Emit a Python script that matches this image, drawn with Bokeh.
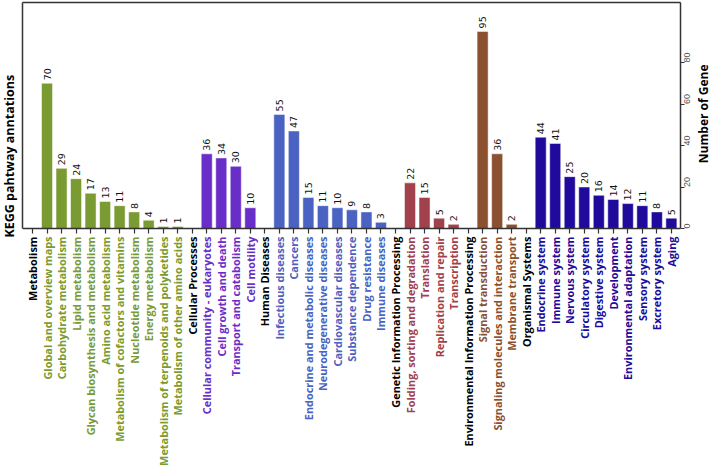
import math
from bokeh.plotting import figure
from bokeh.layouts import row
from bokeh.models import Range1d, FixedTicker, ColumnDataSource, LabelSet, Label, LinearAxis
from bokeh.core.properties import value
from bokeh.embed import file_html
from bokeh.resources import INLINE

# ---- data ----
groups = ["Metabolism", "Cellular Processes", "Human Diseases",
          "Genetic Information Processing", "Environmental Information Processing",
          "Organismal Systems"]
group_colors = ["#7A9A32", "#6A2EC8", "#4A62C2", "#A0414B", "#8A5030", "#200A9C"]

metabolism = ["Global and overview maps", "Carbohydrate metabolism", "Lipid metabolism",
              "Glycan biosynthesis and metabolism", "Amino acid metabolism",
              "Metabolism of cofactors and vitamins", "Nucleotide metabolism",
              "Energy metabolism", "Metabolism of terpenoids and polyketides",
              "Metabolism of other amino acids"]
metabolism_vals = [70, 29, 24, 17, 13, 11, 8, 4, 1, 1]

cellular = ["Cellular community - eukaryotes", "Cell growth and death",
            "Transport and catabolism", "Cell motility"]
cellular_vals = [36, 34, 30, 10]

diseases = ["Infectious diseases", "Cancers", "Endocrine and metabolic diseases",
            "Neurodegenerative diseases", "Cardiovascular diseases",
            "Substance dependence", "Drug resistance", "Immune diseases"]
diseases_vals = [55, 47, 15, 11, 10, 9, 8, 3]

genetic = ["Folding, sorting and degradation", "Translation",
           "Replication and repair", "Transcription"]
genetic_vals = [22, 15, 5, 2]

environmental = ["Signal transduction", "Signaling molecules and interaction",
                 "Membrane transport"]
environmental_vals = [95, 36, 2]

organismal = ["Endocrine system", "Immune system", "Nervous system",
              "Circulatory system", "Digestive system", "Development",
              "Environmental adaptation", "Sensory system", "Excretory system", "Aging"]
organismal_vals = [44, 41, 25, 20, 16, 14, 12, 11, 8, 5]

y_ticks = [0, 20, 40, 60, 80]

items = [metabolism, cellular, diseases, genetic, environmental, organismal]
vals = [metabolism_vals, cellular_vals, diseases_vals, genetic_vals,
        environmental_vals, organismal_vals]

# ---- flatten ----
lab_x, lab_text, lab_color = [], [], []
bar_x, bar_top, bar_color, bar_text = [], [], [], []
i = 0
for g, col, names, vs in zip(groups, group_colors, items, vals):
    lab_x.append(i); lab_text.append(g); lab_color.append("#000000")
    i += 1
    for n, v in zip(names, vs):
        lab_x.append(i); lab_text.append(n); lab_color.append(col)
        bar_x.append(i); bar_top.append(v); bar_color.append(col); bar_text.append(str(v))
        i += 1
n_cat = i

# ---- geometry (pixels of the page) ----
H = 474
LEFT_W = 20            # strip holding the left title
RIGHT_X = 696          # strip holding the right title starts here
TOTAL_W = 711
box_left_px, box_right_px = 22, 680
left_b = box_left_px - LEFT_W
right_b = RIGHT_X - box_right_px
main_w = RIGHT_X - LEFT_W
top_b, bottom_b = 2, 5
px_x = 14.52          # pixels per category
px_y = 2.075          # pixels per gene
cat0_px = 32          # page x of first category
zero_px = 228         # page y of value 0
x_start = -(cat0_px - box_left_px) / px_x
x_end = x_start + (box_right_px - box_left_px) / px_x
y_top = (zero_px - top_b) / px_y
y_bot = -((H - bottom_b) - zero_px) / px_y

LINE = "#333333"

p = figure(width=main_w, height=H, x_range=Range1d(x_start, x_end),
           y_range=Range1d(y_bot, y_top),
           output_backend="svg", toolbar_location=None, y_axis_location="right",
           min_border_left=left_b, min_border_right=right_b,
           min_border_top=top_b, min_border_bottom=bottom_b)
p.xgrid.visible = False
p.ygrid.visible = False
p.outline_line_color = None
p.background_fill_color = "white"
p.border_fill_color = "white"

bsrc = ColumnDataSource(dict(x=bar_x, top=bar_top, color=bar_color, text=bar_text))
p.vbar(x="x", top="top", bottom=0, width=0.76, fill_color="color",
       line_color="white", line_alpha=0.5, line_width=1, source=bsrc)
p.text(x="x", y="top", text="text", source=bsrc, angle=math.pi / 2,
       text_align="left", text_baseline="middle", y_offset=-3,
       text_font_size="9.5px", text_color="#111111", text_font=value("DejaVu Sans"))

# bottom axis: drawn at value 0, category ticks only
xa = p.xaxis[0]
xa.fixed_location = 0
xa.ticker = FixedTicker(ticks=[], minor_ticks=list(range(n_cat)))
xa.major_label_standoff = 0
xa.minor_tick_out = 5
xa.minor_tick_in = 0
xa.minor_tick_line_color = LINE
xa.minor_tick_line_width = 1.2
xa.axis_line_color = LINE
xa.axis_line_width = 1.5

# right axis: number of genes
ya = p.yaxis[0]
ya.bounds = (0, y_top)
ya.ticker = FixedTicker(ticks=y_ticks)
ya.major_label_orientation = math.pi / 2
ya.major_label_text_font_size = "9px"
ya.major_label_text_color = "#555555"
ya.major_label_standoff = 2
ya.major_tick_out = 4
ya.major_tick_in = 0
ya.minor_tick_line_color = None
ya.axis_line_color = LINE
ya.axis_line_width = 1.5
ya.major_tick_line_color = LINE

# top and left sides of the box
top_axis = LinearAxis(ticker=FixedTicker(ticks=[], minor_ticks=[0]),
                      axis_line_color=LINE, axis_line_width=1.5,
                      major_tick_out=0, major_tick_in=0, major_label_standoff=0,
                      minor_tick_out=0, minor_tick_in=0,
                      minor_tick_line_color=None, major_tick_line_color=None)
p.add_layout(top_axis, "above")
left_axis = LinearAxis(ticker=FixedTicker(ticks=[], minor_ticks=[0]), bounds=(0, y_top),
                       axis_line_color=LINE, axis_line_width=1.5,
                       major_tick_out=0, major_tick_in=0, major_label_standoff=0,
                       minor_tick_out=0, minor_tick_in=0,
                       minor_tick_line_color=None, major_tick_line_color=None)
p.add_layout(left_axis, "left")

# category labels below the axis
lab_y = -8 / px_y
lsrc = ColumnDataSource(dict(x=lab_x, y=[lab_y] * n_cat, text=lab_text, color=lab_color))
p.add_layout(LabelSet(x="x", y="y", text="text", source=lsrc, angle=math.pi / 2,
                      text_align="right", text_baseline="middle",
                      text_color="color", text_font_size="10.9px",
                      text_font=value("Open Sans"), text_font_style="bold"))


def title_strip(width, cx, cy, text, size):
    s = figure(width=width, height=H, x_range=Range1d(0, width), y_range=Range1d(0, H),
               output_backend="svg", toolbar_location=None,
               x_axis_location=None, y_axis_location=None,
               min_border_left=0, min_border_right=0, min_border_top=0, min_border_bottom=0)
    s.xgrid.visible = False
    s.ygrid.visible = False
    s.outline_line_color = None
    s.add_layout(Label(x=cx, y=H - cy, text=text, angle=math.pi / 2,
                       text_align="center", text_baseline="middle",
                       text_font_size=size, text_font="Open Sans", text_font_style="bold",
                       text_color="#000000"))
    return s


p_left = title_strip(LEFT_W, 9, 156, "KEGG pahtway anntations", "12.5px")
p_right = title_strip(TOTAL_W - RIGHT_X, 703 - RIGHT_X, 113, "Number of Gene", "12px")

layout = row(p_left, p, p_right, spacing=0)
open("out.html", "w").write(file_html(layout, INLINE))
